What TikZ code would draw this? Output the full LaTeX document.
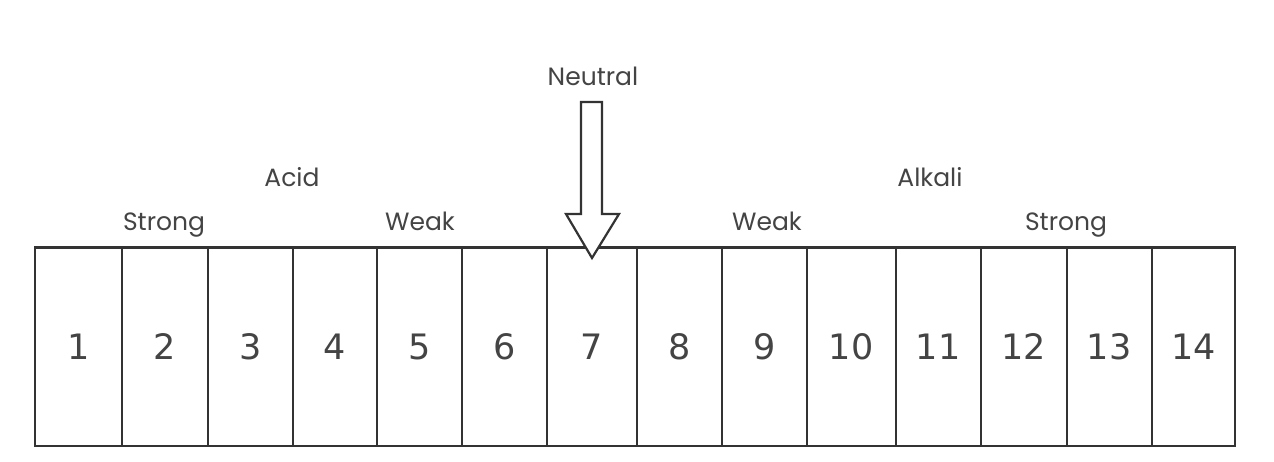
\documentclass[tikz,border=0pt]{standalone}
\usepackage{fontspec}
\setmainfont{Poppins}
\newfontfamily\digitfont{DejaVu Sans}
\definecolor{ink}{HTML}{333333}
\definecolor{txt}{HTML}{444444}
\tikzset{
  cell/.style={draw=ink, line width=2.2pt, minimum height=198.5pt, inner sep=0pt, text=txt, font=\digitfont\fontsize{35}{40}\selectfont},
  lbl/.style={text=txt, font=\fontsize{25}{28}\selectfont, inner sep=0pt, anchor=base},
  neutralarrow/.style={draw=ink, line width=2.2pt, fill=white, line join=miter}
}
\begin{document}
\begin{tikzpicture}[x=1pt,y=-1pt]
\useasboundingbox[fill=white] (0,0) rectangle (1274,461);
\foreach \n/\c/\w in {1/78.35/86.7, 2/164.85/86.3, 3/250.35/84.7, 4/334.7/84, 5/419.2/85, 6/504.2/85, 7/591.7/90, 8/679.2/85, 9/764.2/85, 10/851.2/89, 11/938.2/85, 12/1023.7/86, 13/1109.2/85, 14/1193.35/83.3}
  \node[cell, minimum width=\w pt] (c\n) at (\c,346.75) {\n};
\node[lbl] (neutral) at (593,85) {Neutral};
\node[lbl] (acid) at (292,186) {Acid};
\node[lbl] (strongA) at (164,230) {Strong};
\node[lbl] (weakA) at (420,230) {Weak};
\node[lbl] (weakB) at (767,230) {Weak};
\node[lbl] (alkali) at (930,186) {Alkali};
\node[lbl] (strongB) at (1066,230) {Strong};
\coordinate (tip) at (592,258);
\draw[neutralarrow] (581,102) -- (602,102) -- (602,214) -- (619,214) -- (tip) -- (566,214) -- (581,214) -- cycle;
\end{tikzpicture}
\end{document}
